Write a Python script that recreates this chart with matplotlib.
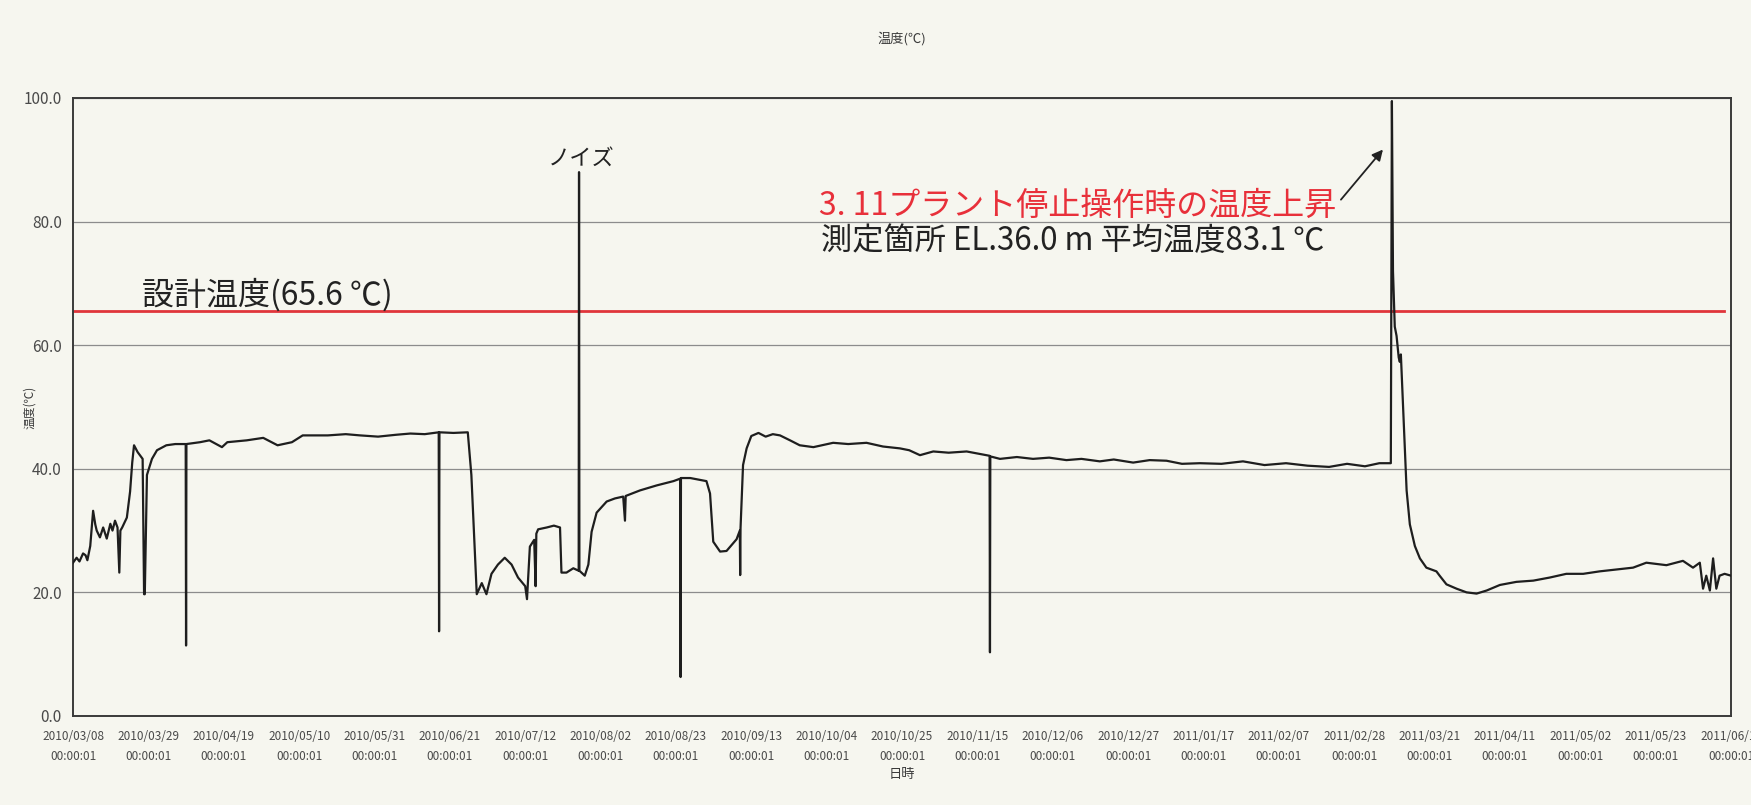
import datetime as dt
import matplotlib
matplotlib.use('Agg')
import matplotlib.pyplot as plt
import matplotlib.dates as mdates

plt.rcParams['font.family'] = ['Noto Sans CJK JP', 'DejaVu Sans']

START = dt.datetime(2010, 3, 8, 0, 0, 1)
SPAN_DAYS = 462
TICK_STEP = 21
DESIGN_TEMP = 65.6

# elapsed days from START and temperature (deg C), split by operating period
days_startup = [0.0, 1.0, 1.8, 2.8, 3.5, 4.0, 4.8, 5.6, 6.2, 6.6, 7.5, 8.4,
                9.4, 10.4, 11.0, 11.7, 12.4, 12.9, 13.2, 13.7, 15.0, 15.9,
                16.5, 17.0, 18.0, 19.4, 19.8, 20.0, 20.6, 22.0, 23.4, 26.0,
                28.5, 31.4, 31.5, 31.6]
temp_startup = [24.8, 25.6, 25.0, 26.3, 26.0, 25.2, 27.5, 33.2, 31.0, 30.0,
                28.9, 30.5, 28.7, 31.1, 30.0, 31.6, 30.5, 23.2, 30.0, 30.5,
                32.1, 36.3, 41.0, 43.8, 42.7, 41.6, 19.7, 19.7, 39.0, 41.6,
                43.0, 43.8, 44.0, 44.0, 11.4, 44.0]

days_spring = [35.4, 38.0, 41.5, 43.0, 48.4, 53.0, 57.0, 61.0, 64.0, 71.0,
               76.0, 80.0, 85.0, 90.0, 94.0, 98.0, 101.9, 102.0, 102.1,
               106.0, 110.0]
temp_spring = [44.3, 44.6, 43.5, 44.3, 44.6, 45.0, 43.8, 44.3, 45.4, 45.4,
               45.6, 45.4, 45.2, 45.5, 45.7, 45.6, 45.9, 13.7, 45.9,
               45.8, 45.9]

days_summer = [111.0, 112.5, 113.9, 115.2, 116.6, 118.4, 120.3, 122.2, 124.0,
               126.0, 126.5, 127.3, 128.5, 128.9, 129.1, 129.6, 132.0, 134.0,
               135.7, 136.1, 137.5, 139.4, 140.9, 141.0, 141.1, 142.6, 143.6,
               144.5, 145.9, 148.7, 151.0, 153.3, 153.8, 154.0, 158.0, 162.6,
               167.3, 169.2, 169.3, 169.4, 172.0, 174.7, 176.5, 177.5, 178.4,
               180.3, 182.1, 184.9, 185.8, 185.9, 186.0]
temp_summer = [39.0, 19.7, 21.5, 19.7, 23.0, 24.5, 25.6, 24.5, 22.4,
               21.0, 18.9, 27.4, 28.5, 21.0, 29.5, 30.2, 30.5, 30.8,
               30.5, 23.2, 23.2, 23.9, 23.5, 88.0, 23.5, 22.7, 24.5,
               29.8, 32.9, 34.7, 35.2, 35.5, 31.6, 35.6, 36.5, 37.3,
               38.0, 38.4, 6.3, 38.5, 38.5, 38.2, 38.0, 36.0, 28.2,
               26.6, 26.7, 28.6, 30.0, 22.8, 30.4]

days_winter = [186.7, 187.7, 189.0, 191.0, 193.0, 195.0, 197.0, 199.8, 202.5,
               206.3, 211.8, 216.0, 221.1, 225.7, 230.4, 233.0, 236.0, 239.7,
               244.0, 249.0, 255.4, 255.5, 255.6, 258.3, 263.0, 267.5, 272.0,
               276.8, 281.0, 286.1, 290.0, 295.4, 300.0, 304.7, 309.0, 314.0,
               320.0, 326.0, 332.0, 338.0, 344.0, 350.0, 355.0, 360.0, 364.0,
               367.2]
temp_winter = [40.6, 43.3, 45.3, 45.8, 45.2, 45.6, 45.4, 44.6, 43.8,
               43.5, 44.2, 44.0, 44.2, 43.6, 43.3, 43.0, 42.2, 42.8,
               42.6, 42.8, 42.1, 10.3, 42.0, 41.6, 41.9, 41.6, 41.8,
               41.4, 41.6, 41.2, 41.5, 41.0, 41.4, 41.3, 40.8, 40.9,
               40.8, 41.2, 40.6, 40.9, 40.5, 40.3, 40.8, 40.4, 40.9,
               40.9]

days_shutdown = [367.5, 367.8, 368.3, 368.8, 369.4, 369.7, 370.0, 370.6,
                 371.1, 371.6, 372.5, 373.9, 375.3, 377.1, 378.5, 379.9,
                 380.8, 382.7, 385.5, 388.3, 391.1, 393.9, 397.6, 402.2,
                 406.9, 411.5, 416.1, 420.8, 425.4, 430.1, 434.7, 438.4,
                 444.0, 448.6, 451.4, 453.3, 454.2, 455.1, 456.1, 457.0,
                 457.9, 458.8, 460.2, 462.0]
temp_shutdown = [99.5, 72.0, 63.0, 61.5, 58.0, 57.3, 58.5, 50.4,
                 43.5, 36.5, 31.0, 27.5, 25.5, 24.0, 23.7, 23.4,
                 22.7, 21.3, 20.6, 20.0, 19.8, 20.3, 21.2, 21.7,
                 21.9, 22.4, 23.0, 23.0, 23.4, 23.7, 24.0, 24.8,
                 24.4, 25.1, 24.0, 24.8, 20.6, 22.7, 20.3, 25.5,
                 20.6, 22.7, 23.0, 22.7]

y_ticks = [0, 20, 40, 60, 80, 100]

days = days_startup + days_spring + days_summer + days_winter + days_shutdown
temps = temp_startup + temp_spring + temp_summer + temp_winter + temp_shutdown
assert len(days) == len(temps)


def to_num(d):
    return mdates.date2num(START + dt.timedelta(days=d))


bg = '#f6f6ef'
fig = plt.figure(figsize=(17.51, 8.05), dpi=100, facecolor=bg)
ax = fig.add_axes([0.0417, 0.1106, 0.9469, 0.7677], facecolor=bg)

ax.plot([to_num(d) for d in days], temps, color='#1e1e1e', lw=1.6, zorder=3)
ax.axhline(DESIGN_TEMP, xmin=0, xmax=0.996, color='#e0353b', lw=2.0, zorder=2)

ax.set_xlim(to_num(0), to_num(SPAN_DAYS))
ax.set_ylim(0, 100)

tick_days = list(range(0, SPAN_DAYS + 1, TICK_STEP))
ax.set_xticks([to_num(d) for d in tick_days])
ax.set_xticklabels([(START + dt.timedelta(days=d)).strftime('%Y/%m/%d\n%H:%M:%S')
                    for d in tick_days], fontsize=8.5, color='#4a4a4a',
                   linespacing=1.7)
ax.set_yticks(y_ticks)
ax.set_yticklabels(['%.1f' % v for v in y_ticks], fontsize=11, color='#4a4a4a')
ax.tick_params(axis='x', length=0, pad=10)
ax.tick_params(axis='y', length=0, pad=8)

ax.yaxis.grid(True, color='#8c8c8c', lw=0.9)
ax.set_axisbelow(True)
for side in ['left', 'bottom', 'top', 'right']:
    ax.spines[side].set_color('#3a3a3a')
    ax.spines[side].set_linewidth(1.4)

ax.set_title('温度(℃)', fontsize=9.5, color='#3a3a3a', pad=40)
ax.set_xlabel('日時', fontsize=9.5, color='#3a3a3a', labelpad=4)
ax.set_ylabel('温度(℃)', fontsize=8.5, color='#3a3a3a')
ax.yaxis.set_label_coords(-0.022, 0.50)

ax.text(to_num(19.2), 68.2, '設計温度(65.6 ℃)', fontsize=23,
        color='#222222', va='center', ha='left')
ax.text(to_num(141.5), 90.3, 'ノイズ', fontsize=16, color='#222222',
        va='center', ha='center')
ax.text(to_num(208.0), 82.6, '3. 11プラント停止操作時の温度上昇', fontsize=23,
        color='#e8303a', va='center', ha='left')
ax.text(to_num(208.5), 76.8, '測定箇所 EL.36.0 m 平均温度83.1 ℃', fontsize=22.5,
        color='#222222', va='center', ha='left')
ax.annotate('', xy=(to_num(365.5), 92.0), xytext=(to_num(352.8), 83.2),
            arrowprops=dict(arrowstyle='-|>', color='#222222', lw=1.3,
                            mutation_scale=16))

fig.savefig('out.png', dpi=100, facecolor=bg)
